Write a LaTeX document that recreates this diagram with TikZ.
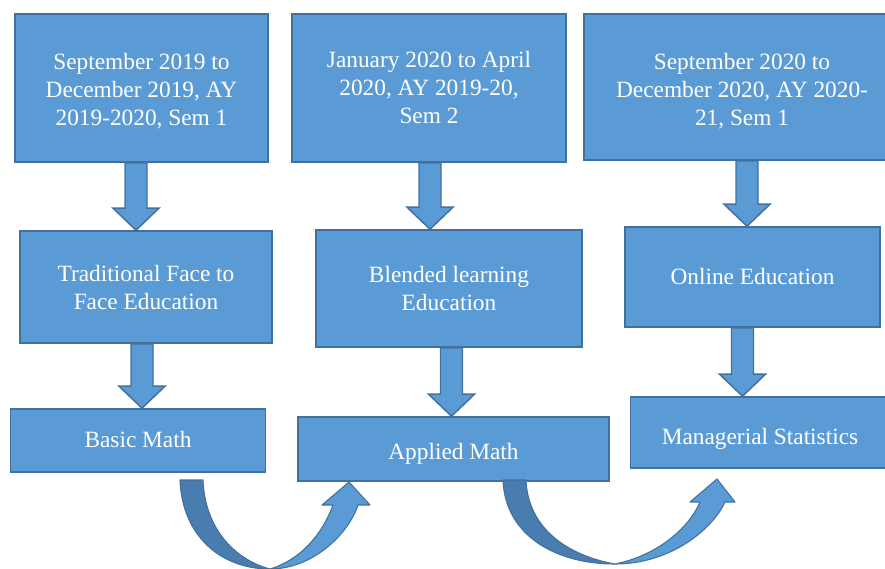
\documentclass[tikz,border=0pt]{standalone}
\usepackage{fontspec}
\setmainfont{Liberation Serif}
\usetikzlibrary{calc}
\definecolor{boxfill}{HTML}{5B9BD5}
\definecolor{boxline}{HTML}{41719C}
\definecolor{darkfill}{HTML}{4A7DAF}
\tikzset{
  box/.style={draw=boxline, fill=boxfill, line width=1.2pt, text=white, align=center, inner sep=0pt,
    font=\fontsize{17.5}{21}\selectfont},
  blockarrow/.style={draw=boxline, fill=boxfill, line width=1.1pt, line join=miter},
  curvelight/.style={draw=boxline, fill=boxfill, line width=0.8pt, line join=round},
  curvedark/.style={draw=boxline, fill=darkfill, line width=0.8pt, line join=round}
}
\newcommand\bt[2]{\raisebox{#1}[\height][\depth]{\begin{tabular}{@{}c@{}}#2\end{tabular}}}
\newcommand\blockdown[2]{%
  \path[blockarrow] let \p1=(#1), \p2=(#2) in
    (\x1-8.25pt,\y1) -- (\x1+8.25pt,\y1) -- (\x1+8.25pt,\y2+16.5pt) -- (\x1+17.25pt,\y2+16.5pt)
    -- (\x1,\y2) -- (\x1-17.25pt,\y2+16.5pt) -- (\x1-8.25pt,\y2+16.5pt) -- cycle;}
\begin{document}
\begin{tikzpicture}[x=0.75pt,y=-0.75pt]
\useasboundingbox (0,0) rectangle (885,568);
\begin{scope}
\clip (0,0) rectangle (885,568);
% row 1
\node[box, minimum width=189.75pt, minimum height=111pt] (A) at (141.5,88)
  {\bt{-2.6pt}{September 2019 to\\December 2019, AY\\2019-2020, Sem 1}};
\node[box, minimum width=205.5pt, minimum height=111pt] (B) at (429,88)
  {\bt{-1.5pt}{January 2020 to April\\2020, AY 2019-20,\\Sem 2}};
\node[box, minimum width=237pt, minimum height=109.5pt] (C) at (742,87)
  {\bt{-3.4pt}{September 2020 to\\December 2020, AY 2020-\\21, Sem 1}};
% row 2
\node[box, minimum width=189pt, minimum height=84pt] (D) at (146,287)
  {\bt{-1.9pt}{Traditional Face to\\Face Education}};
\node[box, minimum width=199.5pt, minimum height=87.75pt] (E) at (449,288.5)
  {\bt{-1.5pt}{Blended learning\\Education}};
\node[box, minimum width=191.25pt, minimum height=75pt] (F) at (752.5,277)
  {\bt{-1.5pt}{Online Education}};
% row 3
\node[box, minimum width=191.25pt, minimum height=47.25pt] (G) at (138,440.5)
  {\bt{-0.75pt}{Basic Math}};
\node[box, minimum width=233.25pt, minimum height=48pt] (H) at (453.5,449)
  {\bt{-3.75pt}{Applied Math}};
\node[box, minimum width=194.25pt, minimum height=53.25pt] (I) at (760,432.5)
  {\bt{-4.5pt}{Managerial Statistics}};
% down arrows
\coordinate (s1) at ($(A.south)+(-5.5,0)$);
\coordinate (s2) at ($(B.south)+(1,0)$);
\coordinate (s3) at ($(C.south)+(5,0)$);
\coordinate (s4) at ($(D.south)+(-4,0)$);
\coordinate (s5) at ($(E.south)+(2.5,0)$);
\coordinate (s6) at ($(F.south)+(-10,0)$);
\blockdown{s1}{s1 |- D.north}
\blockdown{s2}{s2 |- E.north}
\blockdown{s3}{s3 |- F.north}
\blockdown{s4}{s4 |- G.north}
\blockdown{s5}{s5 |- H.north}
\blockdown{s6}{s6 |- I.north}
% curved arrow G -> H
\path[curvedark] (180,480) .. controls (182,535) and (220,569) .. (270,569)
  .. controls (236,560) and (205,530) .. (203,480) -- cycle;
\path[curvelight] (270,569) .. controls (312,569) and (348,535) .. (358,505)
  -- (370,505) -- (349,482) -- (322,505) -- (333,505)
  .. controls (322,535) and (300,560) .. (270,569) -- cycle;
% curved arrow H -> I
\path[curvedark] (503,480) .. controls (505,535) and (555,564) .. (615,564)
  .. controls (570,556) and (528,530) .. (526,480) -- cycle;
\path[curvelight] (615,564) .. controls (670,564) and (712,530) .. (725,502)
  -- (735,502) -- (717,479) -- (690,502) -- (700,502)
  .. controls (688,530) and (655,556) .. (615,564) -- cycle;
\end{scope}
\end{tikzpicture}
\end{document}
